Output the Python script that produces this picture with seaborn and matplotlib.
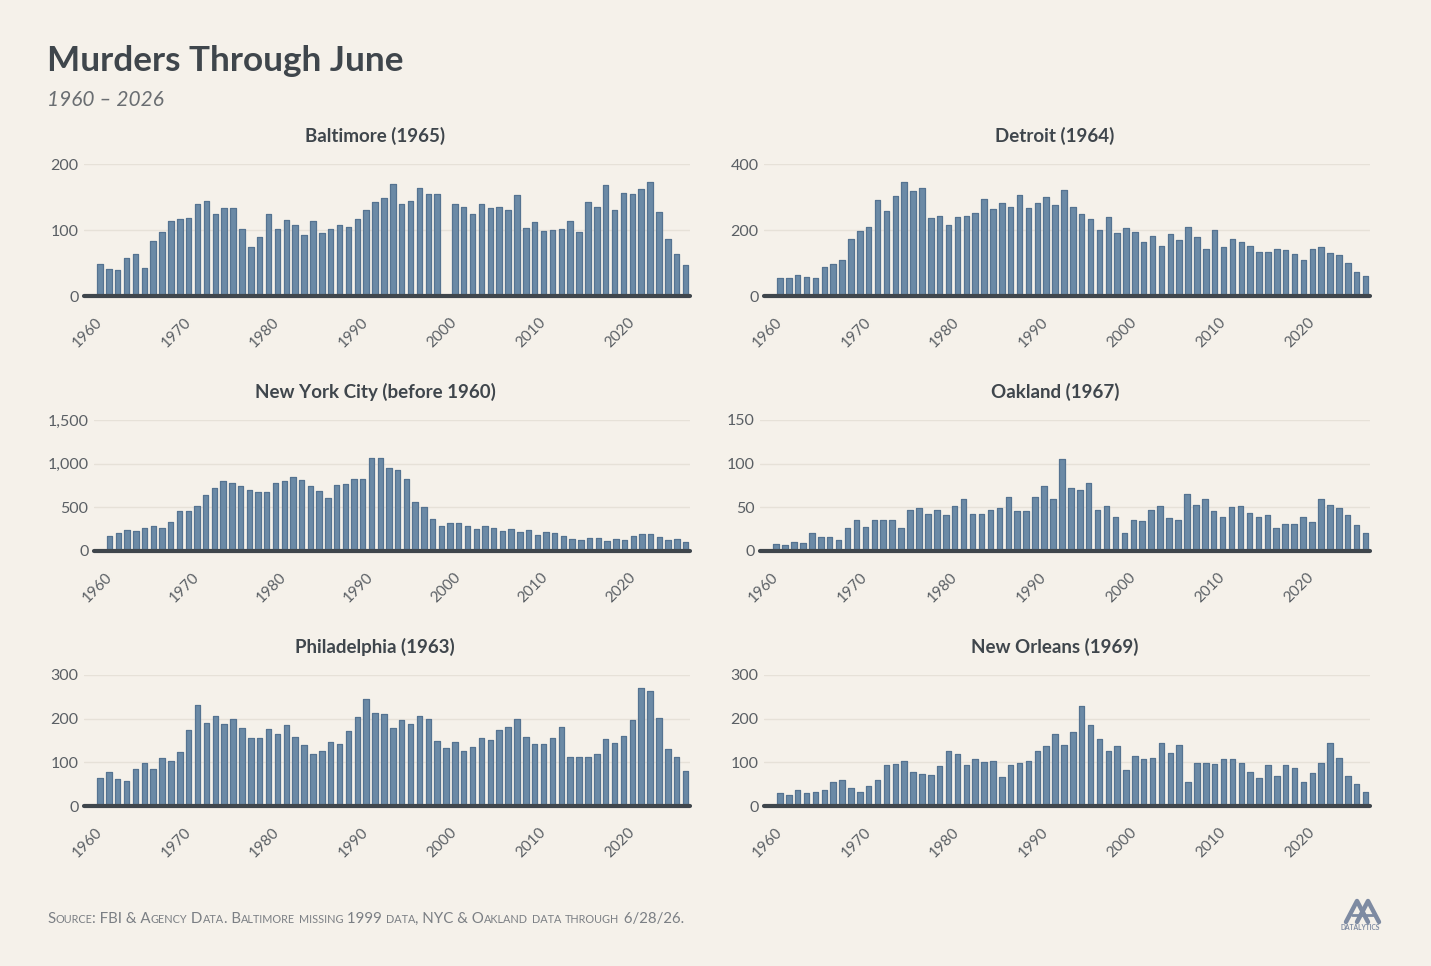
import numpy as np
import pandas as pd
import seaborn as sns
import matplotlib.pyplot as plt
from matplotlib.ticker import FuncFormatter
from matplotlib.lines import Line2D

years = list(range(1960, 2027))

baltimore = [48, 41, 39, 57, 63, 42, 84, 97, 113, 116,
             118, 140, 144, 125, 134, 134, 101, 75, 89, 124,
             101, 115, 108, 92, 113, 96, 101, 108, 105, 117,
             131, 143, 149, 170, 140, 144, 164, 154, 154, None,
             139, 135, 125, 139, 134, 135, 131, 153, 103, 112,
             98, 100, 101, 113, 97, 142, 135, 168, 131, 156,
             155, 162, 173, 128, 86, 63, 47]
detroit = [55, 56, 63, 57, 54, 88, 96, 108, 174, 198,
           208, 290, 257, 302, 344, 317, 327, 235, 242, 215,
           238, 242, 252, 293, 264, 282, 269, 307, 268, 282,
           300, 275, 320, 269, 250, 232, 199, 238, 190, 205,
           194, 165, 182, 153, 187, 169, 209, 180, 143, 199,
           149, 173, 164, 151, 133, 133, 141, 138, 126, 110,
           143, 149, 129, 124, 101, 72, 62]
nyc = [172, 210, 241, 230, 268, 291, 260, 333, 455, 455,
       517, 639, 720, 804, 777, 746, 700, 677, 681, 773,
       800, 846, 808, 742, 685, 605, 754, 762, 827, 823,
       1068, 1068, 949, 922, 819, 559, 505, 364, 287, 318,
       325, 283, 256, 291, 260, 226, 253, 222, 237, 188,
       214, 207, 176, 138, 126, 145, 145, 119, 142, 130,
       176, 199, 199, 165, 126, 142, 103]
oakland = [8, 7, 10, 9, 21, 16, 16, 13, 26, 36,
           28, 36, 35, 35, 26, 47, 49, 42, 47, 41,
           51, 59, 42, 42, 47, 49, 62, 46, 46, 62,
           75, 59, 105, 72, 70, 78, 47, 52, 39, 21,
           36, 34, 47, 51, 38, 35, 65, 53, 60, 46,
           39, 50, 52, 43, 39, 41, 26, 31, 31, 39,
           33, 59, 53, 49, 41, 30, 21]
philadelphia = [64, 77, 62, 57, 85, 98, 84, 110, 104, 124,
                174, 232, 189, 205, 187, 200, 178, 155, 155, 177,
                166, 185, 158, 139, 119, 127, 146, 142, 172, 203,
                246, 212, 211, 179, 196, 188, 207, 200, 148, 132,
                146, 126, 135, 155, 151, 173, 182, 200, 158, 141,
                143, 156, 181, 113, 113, 113, 119, 153, 145, 161,
                196, 270, 263, 201, 131, 113, 80]
new_orleans = [30, 25, 37, 29, 31, 37, 54, 59, 42, 32,
               45, 60, 94, 97, 104, 78, 74, 72, 91, 126,
               120, 95, 107, 100, 102, 66, 93, 98, 103, 126,
               137, 164, 139, 169, 229, 186, 154, 127, 137, 83,
               114, 107, 110, 144, 122, 139, 55, 98, 98, 97,
               107, 108, 98, 77, 65, 93, 68, 94, 86, 55,
               76, 99, 145, 111, 68, 51, 33]

panel_titles = ["Baltimore (1965)", "Detroit (1964)", "New York City (before 1960)",
                "Oakland (1967)", "Philadelphia (1963)", "New Orleans (1969)"]
panel_data = [baltimore, detroit, nyc, oakland, philadelphia, new_orleans]
panel_yticks = [[0, 100, 200], [0, 200, 400], [0, 500, 1000, 1500],
                [0, 50, 100, 150], [0, 100, 200, 300], [0, 100, 200, 300]]
year_ticks = [1960, 1970, 1980, 1990, 2000, 2010, 2020]

BG = "#F5F1EA"
BAR = "#6B8AA6"
EDGE = "#557391"
DARK = "#3F464C"
TICK = "#5A5F64"
GRID = "#E6E1D8"

sns.set_theme(style="white")
plt.rcParams['font.family'] = ['Lato', 'DejaVu Sans']

W, H = 1431, 966
fig = plt.figure(figsize=(W / 100, H / 100), dpi=100, facecolor=BG)


def fx(px):
    return px / W


def fy(py):
    return 1 - py / H


# pixel layout of each panel: left edge, right edge, top gridline, baseline
lefts = [84, 764, 94, 760, 84, 764]
rights = [690, 1370, 690, 1370, 690, 1370]
tops = [164, 164, 420, 420, 675, 675]
bottoms = [296, 296, 551, 551, 806, 806]
title_x = [375, 1055]

for i, (title, vals) in enumerate(zip(panel_titles, panel_data)):
    L, R, T, B = lefts[i], rights[i], tops[i], bottoms[i]
    ax = fig.add_axes([fx(L), fy(B), (R - L) / W, (B - T) / H])
    ax.set_facecolor(BG)
    df = pd.DataFrame({"year": years, "murders": vals}).dropna()
    sns.barplot(data=df, x="year", y="murders", native_scale=True, color=BAR,
                width=0.62, errorbar=None, saturation=1, ax=ax,
                edgecolor=EDGE, linewidth=0.9)
    for p in ax.patches:
        p.set_joinstyle("round")
    ax.set_xlim(1958.2, 2026.5)
    yt = panel_yticks[i]
    ax.set_ylim(0, yt[-1])
    ax.set_yticks(yt)
    ax.yaxis.set_major_formatter(FuncFormatter(lambda v, pos: f"{v:,.0f}"))
    ax.set_xticks(year_ticks)
    ax.set_xticklabels([str(y) for y in year_ticks], rotation=45, ha="right",
                       va="center", rotation_mode="anchor")
    ax.tick_params(axis="x", length=0, pad=17, labelsize=11, labelcolor=TICK)
    ax.tick_params(axis="y", length=0, pad=4, labelsize=11.5, labelcolor=TICK)
    ax.yaxis.grid(True, color=GRID, linewidth=1)
    ax.set_axisbelow(True)
    for s in ax.spines.values():
        s.set_visible(False)
    ax.axhline(0, color=DARK, linewidth=3, zorder=5, clip_on=False)
    ax.set_xlabel("")
    ax.set_ylabel("")
    fig.text(fx(title_x[i % 2]), fy(T - 28), title, ha="center", va="center",
             fontsize=13.5, fontweight="bold", color=DARK)

fig.text(fx(47), fy(61), "Murders Through June", ha="left", va="center",
         fontsize=25.3, fontweight="bold", color=DARK)
fig.text(fx(47), fy(100), "1960 \u2013 2026", ha="left", va="center",
         fontsize=15, style="italic", color="#6A6E72")

# footer in small caps
footer = "Source: FBI & Agency Data. Baltimore missing 1999 data, NYC & Oakland data through 6/28/26."
renderer = fig.canvas.get_renderer()
runs = []
for ch in footer:
    small = ch.islower()
    if runs and runs[-1][1] == small:
        runs[-1][0] += ch
    else:
        runs.append([ch, small])
xpos = 47
for txt, small in runs:
    t = fig.text(fx(xpos), fy(923), txt.upper() if small else txt, ha="left",
                 va="baseline", fontsize=7.8 if small else 10.8, color="#7B7F84")
    xpos += t.get_window_extent(renderer).width

# logo
logo_col = "#7E8BA2"
fig.add_artist(Line2D([fx(1346), fx(1357), fx(1368)], [fy(922), fy(901), fy(922)],
                      transform=fig.transFigure, color=logo_col, lw=3.2))
fig.add_artist(Line2D([fx(1357), fx(1368), fx(1379)], [fy(922), fy(901), fy(922)],
                      transform=fig.transFigure, color=logo_col, lw=3.2))
fig.add_artist(Line2D([fx(1352), fx(1373)], [fy(915), fy(915)],
                      transform=fig.transFigure, color=logo_col, lw=2))
fig.text(fx(1360), fy(928), "DATALYTICS", ha="center", va="center",
         fontsize=4.8, fontweight="bold", color=logo_col)

fig.savefig("out.png", dpi=100, facecolor=BG)
